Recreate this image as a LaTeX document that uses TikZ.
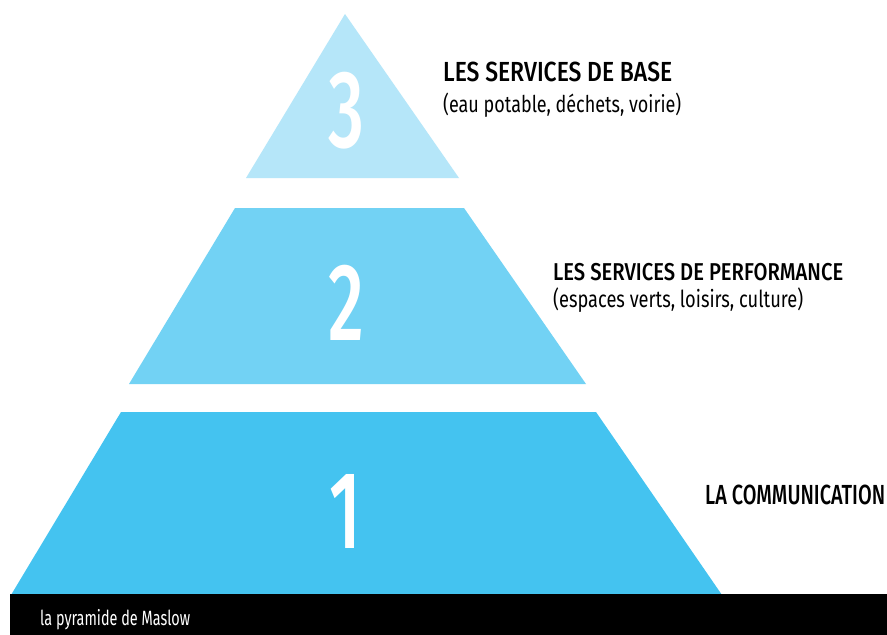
\documentclass[tikz,border=0pt]{standalone}
\usepackage{fontspec}
\usepackage{graphicx}
\setmainfont{Fira Sans}
\newfontfamily\titlefont{Fira Sans Medium}
\newfontfamily\subfont[FakeStretch=0.78]{Fira Sans}
\newfontfamily\capfont[FakeStretch=0.70]{Fira Sans}
\newfontfamily\numfont[FakeStretch=0.64]{Fira Sans Medium}
\definecolor{tierA}{RGB}{181,230,249}
\definecolor{tierB}{RGB}{114,210,244}
\definecolor{tierC}{RGB}{68,195,240}
\newcommand{\tlabel}[3]{\resizebox{#1}{#2}{\titlefont\fontsize{20}{24}\selectfont #3}}
\newcommand{\slabel}[2]{\resizebox{#1}{!}{\subfont\fontsize{20}{24}\selectfont #2}}
\begin{document}
\begin{tikzpicture}[x=1pt,y=-1pt,
  title/.style={anchor=base west,inner sep=0pt,text=black},
  subtitle/.style={anchor=base west,inner sep=0pt,text=black},
  tiernum/.style={anchor=base,inner sep=0pt,font=\numfont\fontsize{110}{120}\selectfont,text=white}]
\useasboundingbox (0,0) rectangle (887,635);
\fill[white] (0,0) rectangle (887,635);
% tiers
\fill[tierA] (345,14) -- (459,178) -- (246,178) -- cycle;
\fill[tierB] (235,208) -- (464,208) -- (586,384) -- (129,384) -- cycle;
\fill[tierC] (121,412) -- (596,412) -- (722,595) -- (11,595) -- cycle;
% caption bar
\fill[black] (10,594) rectangle (887,635);
\node[anchor=base west,inner sep=0pt,text=white] (cap) at (40,625.5) {\resizebox{150pt}{!}{\capfont\fontsize{16}{19}\selectfont la pyramide de Maslow}};
% numbers
\node[tiernum] (n3) at (346,147) {3};
\node[tiernum] (n2) at (346.5,340) {2};
\node[tiernum] (n1) at (345.5,548) {1};
% labels
\node[title] (t3) at (443,81.5) {\tlabel{229pt}{19.5pt}{LES SERVICES DE BASE}};
\node[subtitle] (s3) at (443,112) {\slabel{238pt}{(eau potable, déchets, voirie)}};
\node[title] (t2) at (553,280.5) {\tlabel{290pt}{17.2pt}{LES SERVICES DE PERFORMANCE}};
\node[subtitle] (s2) at (553,307) {\slabel{250pt}{(espaces verts, loisirs, culture)}};
\node[title] (t1) at (705,504) {\tlabel{180pt}{19.5pt}{LA COMMUNICATION}};
\end{tikzpicture}
\end{document}
